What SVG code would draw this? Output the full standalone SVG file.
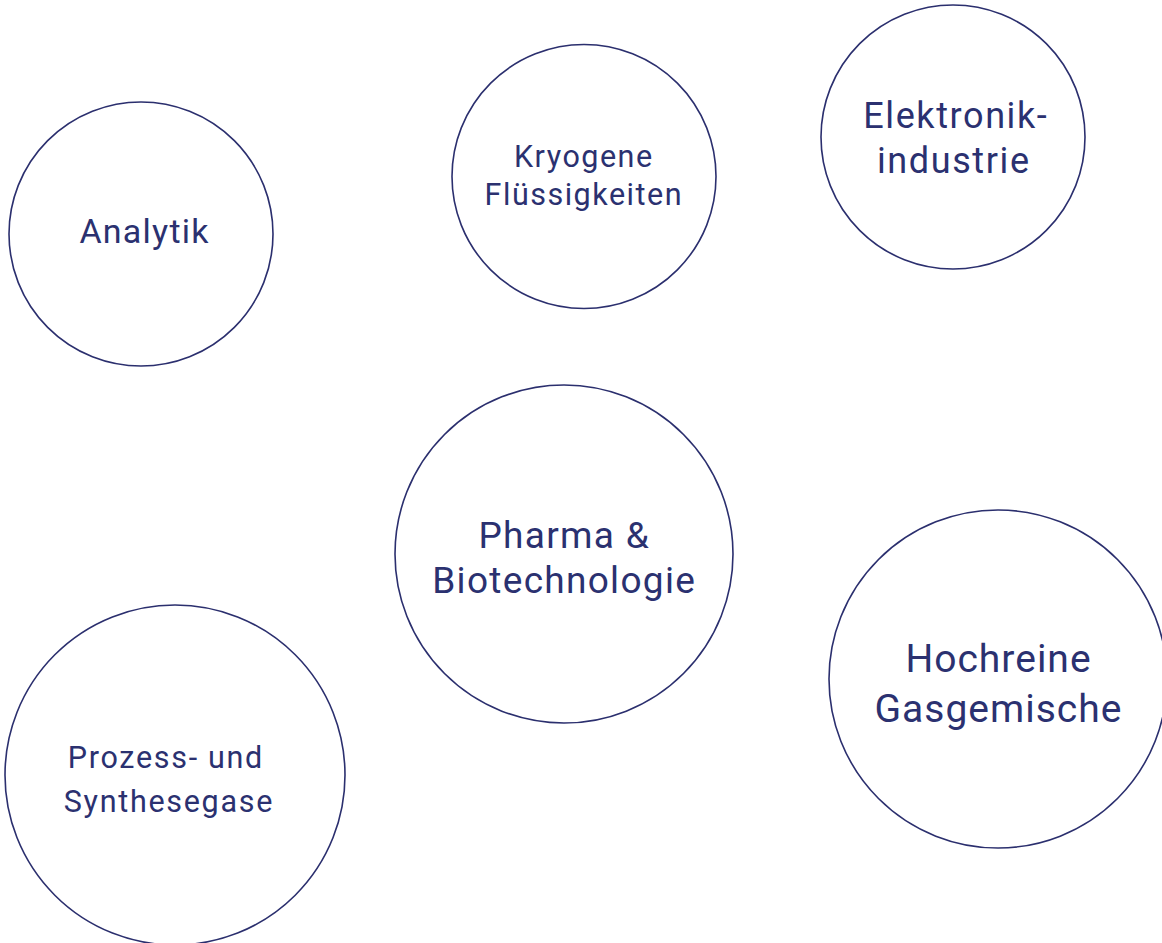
<svg xmlns="http://www.w3.org/2000/svg" width="1162" height="943" viewBox="0 0 1162 943">
<style>
.c{fill:#ffffff;stroke:#2b2f6e;stroke-width:1.6}
.t{font-family:Roboto,"Liberation Sans",sans-serif;fill:#2b3170;text-anchor:middle}
</style>
<rect width="1162" height="943" fill="#ffffff"/>
<g id="connectors"></g>
<g id="analytik">
<circle class="c" cx="141" cy="234" r="132"/>
<text class="t" x="144.6" y="243" font-size="34" letter-spacing="1.25">Analytik</text>
</g>
<g id="kryogene">
<circle class="c" cx="584" cy="176.5" r="132"/>
<text class="t" x="583.8" y="167" font-size="30.5" letter-spacing="1.5">Kryogene</text>
<text class="t" x="583.8" y="205" font-size="30.5" letter-spacing="1.5">Flüssigkeiten</text>
</g>
<g id="elektronik">
<circle class="c" cx="953" cy="137" r="132"/>
<text class="t" x="955.8" y="128" font-size="36" letter-spacing="1.6">Elektronik-</text>
<text class="t" x="953.8" y="173" font-size="36" letter-spacing="1.6">industrie</text>
</g>
<g id="pharma">
<circle class="c" cx="564" cy="554" r="169"/>
<text class="t" x="564.2" y="548" font-size="37" letter-spacing="1.3">Pharma &amp;</text>
<text class="t" x="564.2" y="593" font-size="37" letter-spacing="1.3">Biotechnologie</text>
</g>
<g id="hochreine">
<circle class="c" cx="998" cy="679" r="169"/>
<text class="t" x="998.5" y="672" font-size="39" letter-spacing="1">Hochreine</text>
<text class="t" x="998.5" y="722" font-size="39" letter-spacing="1">Gasgemische</text>
</g>
<g id="prozess">
<circle class="c" cx="175" cy="775" r="170"/>
<text class="t" x="165.9" y="768" font-size="30.5" letter-spacing="1.7">Prozess- und</text>
<text class="t" x="168.9" y="812" font-size="30.5" letter-spacing="1.7">Synthesegase</text>
</g>
</svg>
